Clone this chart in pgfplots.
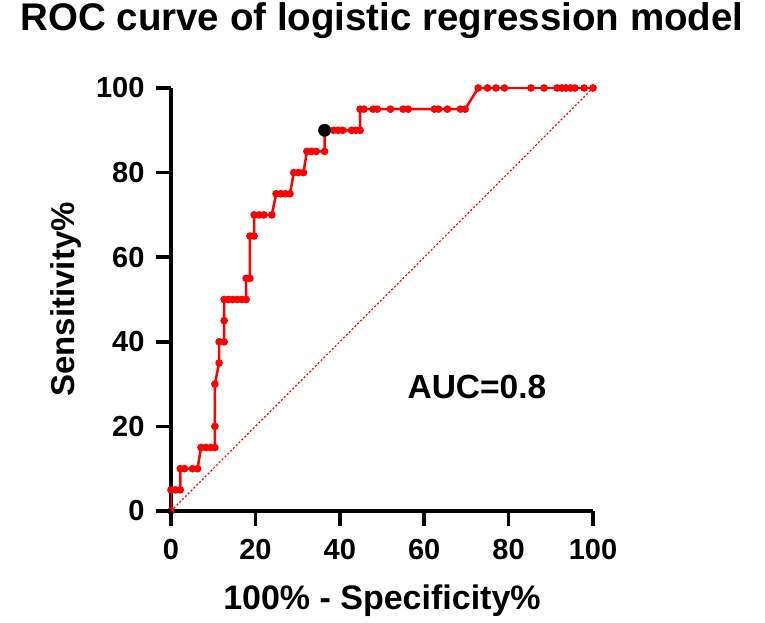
\documentclass[border=0pt]{standalone}
\usepackage{pgfplots}
\pgfplotsset{compat=1.18}
\usepackage{fontspec}
\setmainfont{Liberation Sans}

\begin{document}
\begin{tikzpicture}
\begin{axis}[
    scale only axis,
    width=422bp, height=423bp,
    xmin=0, xmax=100, ymin=0, ymax=100,
    axis x line*=bottom,
    axis y line*=left,
    axis line style={line width=3.5bp, black, -},
    xtick={0,20,40,60,80,100}, ytick={0,20,40,60,80,100},
    xticklabels={0,20,40,60,80,100}, yticklabels={0,20,40,60,80,100},
    tick align=outside,
    major tick length=15bp,
    every tick/.append style={line width=3.5bp, black},
    tick label style={font=\fontsize{29bp}{32bp}\selectfont\bfseries},
    xticklabel style={yshift=-10bp},
    yticklabel style={xshift=-8bp},
    title={ROC curve of logistic regression model},
    title style={at={(axis description cs:0.5,1.121)}, anchor=base,
        font=\fontsize{38.5bp}{44bp}\selectfont\bfseries, inner sep=0pt},
    xlabel={100\% - Specificity\%},
    xlabel style={at={(axis description cs:0.5,-0.234)}, anchor=base,
        font=\fontsize{34bp}{40bp}\selectfont\bfseries, inner sep=0pt},
    ylabel={Sensitivity\%},
    ylabel style={at={(axis description cs:-0.2867,0.5)}, anchor=north,
        font=\fontsize{33bp}{40bp}\selectfont\bfseries, inner sep=0pt},
]
\addplot[red, line width=1.2bp, dash pattern=on 2bp off 2bp] coordinates {(0,0) (100,100)};
\addplot[red, line width=2.5bp, mark=*, mark size=2.5bp, mark options={solid}] coordinates {
 (0,0) (0,5) (1.1,5) (2.2,5) (2.2,10) (3.2,10) (5.1,10) (6.3,10)
 (7.1,15) (8.3,15) (9.4,15) (10.4,15) (10.4,20) (10.4,30) (11.4,35)
 (11.4,40) (12.6,40) (12.6,45) (12.6,50) (13.6,50) (14.6,50) (15.7,50)
 (16.8,50) (17.8,50) (17.8,55) (18.7,55) (18.7,65) (19.7,65) (19.7,70)
 (20.9,70) (22.0,70) (23.9,70) (24.9,75) (26.0,75) (27.1,75) (28.2,75)
 (29.1,80) (30.2,80) (31.4,80) (32.2,85) (33.3,85) (34.4,85) (36.4,85)
 (36.4,90) (38.5,90) (39.6,90) (40.7,90) (42.8,90) (43.8,90) (44.8,90)
 (44.8,95) (45.7,95) (47.9,95) (48.9,95) (52.0,95) (55.0,95) (56.2,95)
 (62.4,95) (63.4,95) (65.5,95) (68.6,95) (69.7,95) (72.8,100) (75.0,100)
 (77.0,100) (79.0,100) (85.3,100) (88.4,100) (91.5,100) (92.6,100)
 (93.6,100) (94.7,100) (95.7,100) (97.9,100) (100,100)
};
\addplot[only marks, black, mark=*, mark size=6.2bp] coordinates {(36.4,90)};
\node[font=\fontsize{33.5bp}{40bp}\selectfont\bfseries] at (axis cs:72.5,29.3) {AUC=0.8};
\end{axis}
% tick marks, drawn outside the axis clip
\foreach \i in {0,...,5} {
  \draw[line width=3.5bp, black] (\i*84.4bp,0) -- (\i*84.4bp,-15bp);
  \draw[line width=3.5bp, black] (0,\i*84.6bp) -- (-15bp,\i*84.6bp);
}
\path (-171bp,-112bp) (594bp,511bp);
\end{tikzpicture}
\end{document}
